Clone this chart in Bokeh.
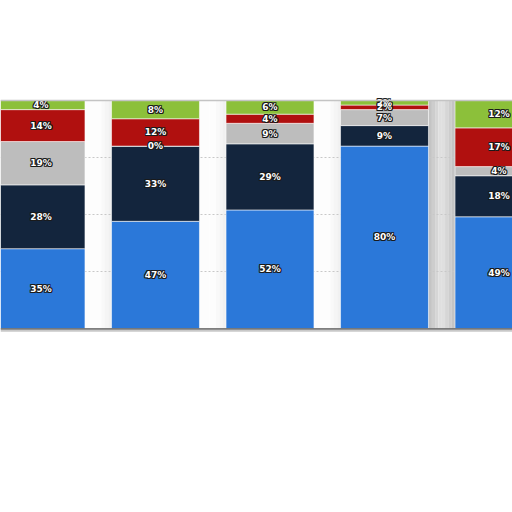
from bokeh.plotting import figure
from bokeh.models import ColumnDataSource, Range1d, Span
from bokeh.core.properties import value
from bokeh.embed import file_html
from bokeh.resources import INLINE

# ---- data (percent shares, bottom to top) ----
bars = [0, 1, 2, 3, 4]
blue = [35, 47, 52, 80, 49]
navy = [28, 33, 29, 9, 18]
grey = [19, 0, 9, 7, 4]
red = [14, 12, 4, 2, 17]
green = [4, 8, 6, 2, 12]

series = ["blue", "navy", "grey", "red", "green"]
colors = ["#2b78d9", "#13253d", "#bdbdbd", "#b0100f", "#8cc03a"]

BAR_W = 0.768
PX_PER_UNIT = 114.5
PX_PER_PCT = 2.28
H = 400
W = 512
TOP_PX = 100
BASE_PX = 328

x0 = -40.5 / PX_PER_UNIT
p = figure(width=W, height=H, output_backend="svg", toolbar_location=None,
           x_range=Range1d(x0, x0 + W / PX_PER_UNIT),
           y_range=Range1d(-(H - BASE_PX) / PX_PER_PCT, 100 + TOP_PX / PX_PER_PCT),
           min_border=0, outline_line_color=None)
p.axis.visible = False
p.xgrid.grid_line_color = None
p.ygrid.grid_line_color = None
p.background_fill_color = "white"
p.border_fill_color = "white"

# gap shading between bars (decorative)
for i in range(len(bars) - 1):
    g0 = bars[i] + BAR_W / 2
    g1 = bars[i + 1] - BAR_W / 2
    n = 8
    step = (g1 - g0) / n
    for k in range(n):
        t = abs((k + 0.5) / n - 0.5) * 2  # 0 center, 1 edge
        if i == 3:
            c = int(228 - 36 * t)
        else:
            c = int(253 - 14 * max(0, (k + 0.5) / n - 0.6) / 0.4)
        col = "#%02x%02x%02x" % (c, c, c)
        p.quad(left=g0 + k * step, right=g0 + (k + 1) * step + 0.001,
               bottom=0, top=100, fill_color=col, line_color=None, level="underlay")

# grid lines
for yv in [25, 50, 75]:
    p.add_layout(Span(location=yv, dimension="width", line_color="#c8c8c8",
                      line_dash="2 2", line_width=1, level="underlay"))
p.add_layout(Span(location=100, dimension="width", line_color="#c4c4c4", line_width=1.5))
p.add_layout(Span(location=-0.2, dimension="width", line_color="#555555", line_width=1.5))
p.add_layout(Span(location=-1.0, dimension="width", line_color="#c8c8c8", line_width=2))

src = ColumnDataSource(dict(x=bars, blue=blue, navy=navy, grey=grey, red=red, green=green))
p.vbar_stack(series, x="x", width=BAR_W, color=colors, source=src,
             line_color="white", line_width=0.8, line_alpha=0.7)

# labels at segment centres
lx, ly, lt = [], [], []
for i, xv in enumerate(bars):
    base = 0
    for s in [blue, navy, grey, red, green]:
        v = s[i]
        lx.append(xv)
        ly.append(base + v / 2)
        lt.append("%d%%" % v)
        base += v
lsrc = ColumnDataSource(dict(x=lx, y=ly, t=lt))
for dx, dy in [(-1, 0), (1, 0), (0, -1), (0, 1), (-1, -1), (1, 1), (-1, 1), (1, -1)]:
    p.text(x="x", y="y", text="t", source=lsrc, x_offset=dx, y_offset=dy,
           text_color="#1a1a1a", text_font=value("DejaVu Sans"), text_font_style="bold",
           text_font_size="9px", text_align="center", text_baseline="middle")
p.text(x="x", y="y", text="t", source=lsrc, text_color="white",
       text_font=value("DejaVu Sans"), text_font_style="bold",
       text_font_size="9px", text_align="center", text_baseline="middle")

open("out.html", "w").write(file_html(p, INLINE))
